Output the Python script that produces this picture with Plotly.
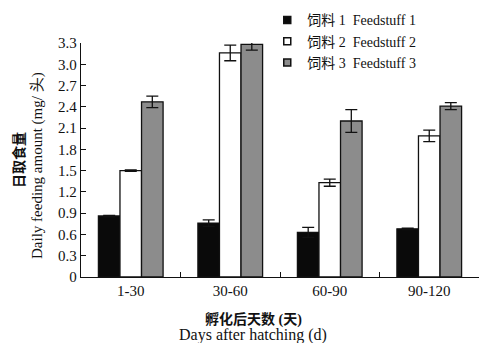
import plotly.graph_objects as go

categories = ["1-30", "30-60", "60-90", "90-120"]
feed1 = [0.86, 0.76, 0.63, 0.68]
feed1_err = [0.01, 0.045, 0.07, 0.01]
feed2 = [1.50, 3.16, 1.33, 1.99]
feed2_err = [0.01, 0.11, 0.05, 0.08]
feed3 = [2.47, 3.28, 2.20, 2.41]
feed3_err = [0.08, 0.08, 0.16, 0.05]
names = ["饲料 1  Feedstuff 1", "饲料 2  Feedstuff 2", "饲料 3  Feedstuff 3"]
ytickvals = [0, 0.3, 0.6, 0.9, 1.2, 1.5, 1.8, 2.1, 2.4, 2.7, 3.0, 3.3]
yticktext = ["0", "0.3", "0.6", "0.9", "1.2", "1.5", "1.8", "2.1", "2.4", "2.7", "3.0", "3.3"]

FONT = "Liberation Serif, Times New Roman, Noto Sans CJK SC, serif"
fills = ["#0a0a0a", "#ffffff", "#8c8c8c"]
series = [(feed1, feed1_err), (feed2, feed2_err), (feed3, feed3_err)]

fig = go.Figure()
for (vals, errs), fill, nm in zip(series, fills, names):
    fig.add_trace(go.Bar(
        x=categories, y=vals, name=nm, showlegend=False,
        marker=dict(color=fill, line=dict(color="#111111", width=1.3)),
        error_y=dict(type="data", array=errs, color="#111111", thickness=1.3, width=6),
    ))
# legend entries (small square markers)
for fill, nm in zip(fills, names):
    fig.add_trace(go.Scatter(
        x=[None], y=[None], mode="markers", name=nm,
        marker=dict(symbol="square", size=7, color=fill, line=dict(color="#111111", width=1.5)),
    ))

fig.update_layout(
    width=479, height=343,
    margin=dict(l=81, r=0, t=43, b=66, autoexpand=False),
    paper_bgcolor="white", plot_bgcolor="white",
    barmode="group", bargap=0.35, bargroupgap=0,
    font=dict(family=FONT, size=15, color="#111111"),
    legend=dict(x=0.468, y=1.165, xanchor="left", yanchor="top",
                font=dict(family=FONT, size=14), tracegroupgap=0,
                bgcolor="rgba(0,0,0,0)", itemwidth=30),
    xaxis=dict(showline=True, linecolor="#111111", linewidth=1.3, automargin=False,
               ticks="inside", tickson="boundaries", ticklen=5, tickcolor="#111111",
               showgrid=False, tickfont=dict(family=FONT, size=15)),
    yaxis=dict(range=[0, 3.3], tickvals=ytickvals, ticktext=yticktext, automargin=False,
               showline=True, linecolor="#111111", linewidth=1.3,
               ticks="inside", ticklen=5, tickcolor="#111111",
               showgrid=False, zeroline=False, tickfont=dict(family=FONT, size=15)),
    annotations=[
        dict(text="<b>孵化后天数 (天)</b>", xref="paper", yref="paper",
             x=(253 - 81) / 398, y=(277 - 319) / 234, xanchor="center", yanchor="middle",
             showarrow=False, font=dict(family=FONT, size=14)),
        dict(text="Days after hatching (d)", xref="paper", yref="paper",
             x=(253 - 81) / 398, y=(277 - 335) / 234, xanchor="center", yanchor="middle",
             showarrow=False, font=dict(family=FONT, size=16)),
        dict(text="<b>日取食量</b>", xref="paper", yref="paper", textangle=-90,
             x=(19 - 81) / 398, y=(277 - 160) / 234, xanchor="center", yanchor="middle",
             showarrow=False, font=dict(family=FONT, size=14)),
        dict(text="Daily feeding amount (mg/ 头)", xref="paper", yref="paper", textangle=-90,
             x=(37 - 81) / 398, y=(277 - 166) / 234, xanchor="center", yanchor="middle",
             showarrow=False, font=dict(family=FONT, size=15)),
    ],
)

fig.write_html("out.html", config={"displayModeBar": False},
               post_script="document.body.style.margin='0';document.body.style.overflow='hidden';")
